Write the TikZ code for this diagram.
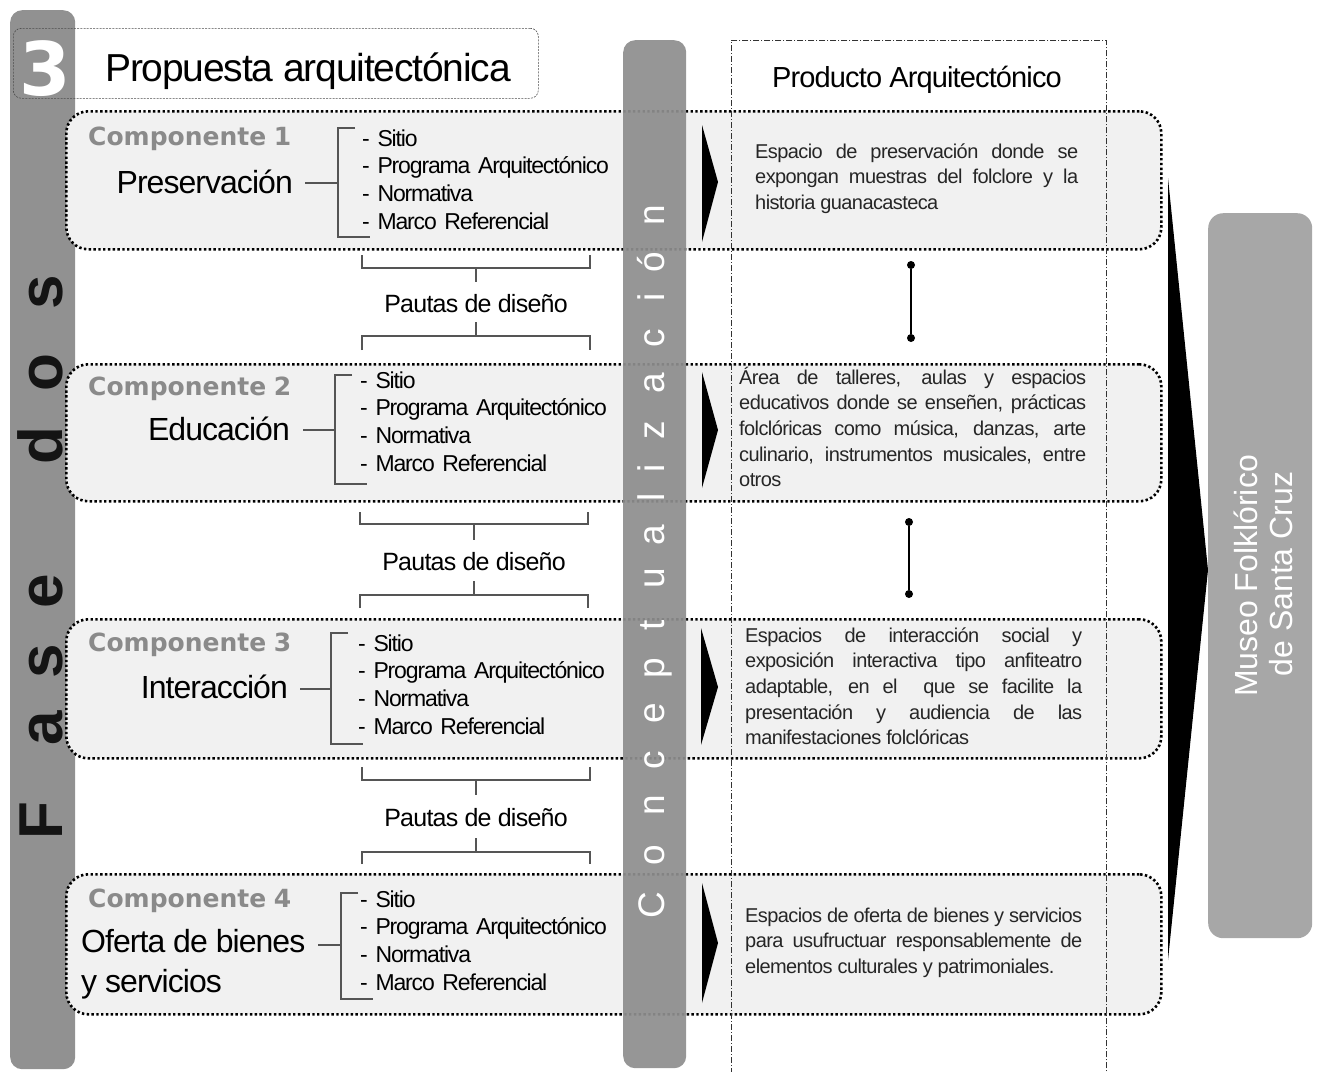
\documentclass[tikz,border=0pt]{standalone}
\usepackage{fontspec}
\setmainfont{Liberation Sans}
\newfontfamily\tightfont[LetterSpace=-3]{Liberation Sans}
\newfontfamily\listfont[LetterSpace=-5]{Liberation Sans}
\newfontfamily\heavyfont{DejaVu Sans}
\definecolor{fasegray}{HTML}{919191}
\definecolor{concgray}{HTML}{8E8E8E}
\definecolor{museogray}{HTML}{A7A7A7}
\definecolor{boxfill}{HTML}{F1F1F1}
\definecolor{compgray}{HTML}{8A8A8A}
\definecolor{brkgray}{HTML}{555555}
\tikzset{
  graybar/.style={rounded corners=12pt, inner sep=0pt, anchor=north west},
  compbox/.style={draw=black, fill=boxfill, line width=2.6pt, dash pattern=on 2.4pt off 2.4pt,
    rounded corners=22pt, minimum width=1095pt, anchor=north west, inner sep=0pt},
  brk/.style={draw=brkgray, line width=1.3pt},
  comptitle/.style={text=compgray, font=\heavyfont\bfseries\fontsize{25}{30}\selectfont, anchor=base west, inner sep=0pt},
  mainlabel/.style={font=\tightfont\fontsize{32}{40}\selectfont, inner sep=0pt},
  itemlist/.style={font=\listfont\fontsize{23}{27.8}\selectfont, align=left, text width=260pt, anchor=base west, inner sep=0pt},
  pauta/.style={font=\tightfont\fontsize{25}{30}\selectfont, anchor=base, inner sep=0pt},
  desc/.style={font=\tightfont\fontsize{20}{25.7}\selectfont, align=justify, anchor=base west, inner sep=0pt, text=black!85},
  dotnode/.style={circle, fill=black, inner sep=0pt, minimum size=8pt},
  vletter/.style={rotate=90, anchor=base, inner sep=0pt},
}
\begin{document}
\begin{tikzpicture}[x=1pt,y=-1pt]
\useasboundingbox (0,0) rectangle (1319,1071);

% Fases bar
\node[graybar, fill=fasegray, minimum width=65pt, minimum height=1059pt] (fases) at (10,10) {};
\foreach \l/\y [count=\i] in {F/821, a/728, s/661, e/591, d/446, o/373, s/292}
  \node[vletter, font=\bfseries\fontsize{62}{70}\selectfont, text=black!92] (fl\i) at (62,\y) {\l};

% Title
\node[draw=black!70, line width=0.6pt, dash pattern=on 2pt off 1.2pt, rounded corners=8pt,
  minimum width=525pt, minimum height=70pt, anchor=north west, inner sep=0pt] (titlebox) at (13,28) {};
\node[text=white, font=\heavyfont\bfseries\fontsize{74}{80}\selectfont, anchor=base, inner sep=0pt] (three) at (45,95) {3};
\node[font=\tightfont\fontsize{39}{44}\selectfont, anchor=base west, inner sep=0pt] (title) at (105,81) {Propuesta arquitectónica};

% Component boxes
\node[compbox, minimum height=138pt] (c1) at (65,110) {};
\node[compbox, minimum height=137pt] (c2) at (65,363) {};
\node[compbox, minimum height=139pt] (c3) at (65,618) {};
\node[compbox, minimum height=140pt] (c4) at (65,873) {};

% Product box
\node[draw=black!80, line width=0.8pt, dash pattern=on 6pt off 2pt on 1pt off 2pt,
  minimum width=375pt, minimum height=1060pt, anchor=north west, inner sep=0pt] (prodbox) at (731,40) {};
\node[font=\tightfont\fontsize{29}{34}\selectfont, anchor=base, inner sep=0pt] (prodtitle) at (917,87) {Producto Arquitectónico};

% Conceptualizacion bar
\node[graybar, fill=concgray, fill opacity=0.93, minimum width=63pt, minimum height=1028pt] (conc) at (623,40) {};
\foreach \l/\y [count=\i] in {C/905, o/855, n/805, c/760, e/713, p/668, t/625, u/578, a/535, l/497, i/468, z/430, a/383, c/338, i/297, ó/262, n/215}
  \node[vletter, text=white, font=\fontsize{37}{42}\selectfont] (cl\i) at (664,\y) {\l};

% Component 1
\node[comptitle] (ct1) at (88,145) {Componente\hspace{0.3em}1};
\node[mainlabel, anchor=base east] (m1) at (293,193) {Preservación};
\node[itemlist] (l1) at (362,146) {- Sitio\\- Programa Arquitectónico\\- Normativa\\- Marco Referencial};
\draw[brk] (305,183) -- (338,183);
\draw[brk] (355,128) -- (338,128) -- (338,237) -- (370,237);

% Component 2
\node[comptitle] (ct2) at (88,395) {Componente\hspace{0.3em}2};
\node[mainlabel, anchor=base east] (m2) at (290,440) {Educación};
\node[itemlist] (l2) at (360,388) {- Sitio\\- Programa Arquitectónico\\- Normativa\\- Marco Referencial};
\draw[brk] (303,430) -- (335,430);
\draw[brk] (352,375) -- (335,375) -- (335,484) -- (367,484);

% Component 3
\node[comptitle] (ct3) at (88,651) {Componente\hspace{0.3em}3};
\node[mainlabel, anchor=base east] (m3) at (288,698) {Interacción};
\node[itemlist] (l3) at (358,651) {- Sitio\\- Programa Arquitectónico\\- Normativa\\- Marco Referencial};
\draw[brk] (300,689) -- (331,689);
\draw[brk] (348,633) -- (331,633) -- (331,744) -- (363,744);

% Component 4
\node[comptitle] (ct4) at (88,907) {Componente\hspace{0.3em}4};
\node[mainlabel, anchor=base west] (m4a) at (81,952) {Oferta de bienes};
\node[mainlabel, anchor=base west] (m4b) at (81,992) {y servicios};
\node[itemlist] (l4) at (360,907) {- Sitio\\- Programa Arquitectónico\\- Normativa\\- Marco Referencial};
\draw[brk] (318,945) -- (341,945);
\draw[brk] (358,893) -- (341,893) -- (341,999) -- (373,999);

% Pautas de diseno
\draw[brk] (362,255) -- (362,268) -- (590,268) -- (590,255);
\draw[brk] (476,268) -- (476,282);
\node[pauta] (pa1) at (476,312) {Pautas de diseño};
\draw[brk] (476,322) -- (476,336);
\draw[brk] (362,350) -- (362,336) -- (590,336) -- (590,350);

\draw[brk] (360,512) -- (360,524) -- (588,524) -- (588,512);
\draw[brk] (474,524) -- (474,540);
\node[pauta] (pa2) at (474,570) {Pautas de diseño};
\draw[brk] (474,581) -- (474,595);
\draw[brk] (360,608) -- (360,595) -- (588,595) -- (588,608);

\draw[brk] (362,767) -- (362,780) -- (590,780) -- (590,767);
\draw[brk] (476,780) -- (476,795);
\node[pauta] (pa3) at (476,826) {Pautas de diseño};
\draw[brk] (476,838) -- (476,852);
\draw[brk] (362,864) -- (362,852) -- (590,852) -- (590,864);

% small arrows
\fill (702,125) -- (718,182) -- (702,242) -- cycle;
\fill (702,372) -- (718,430) -- (702,488) -- cycle;
\fill (701,628) -- (718,687) -- (701,745) -- cycle;
\fill (702,883) -- (718,943) -- (702,1003) -- cycle;

% descriptions
\node[desc, text width=323pt] (p1) at (755,158) {Espacio de preservación donde se\linebreak expongan muestras del folclore y la\linebreak historia guanacasteca};
\node[desc, text width=347pt] (p2) at (739,384) {Área de talleres, aulas y espacios\linebreak educativos donde se enseñen, prácticas\linebreak folclóricas como música, danzas, arte\linebreak culinario, instrumentos musicales, entre\linebreak otros};
\node[desc, text width=337pt] (p3) at (745,642) {Espacios de interacción social y\linebreak exposición interactiva tipo anfiteatro\linebreak adaptable, en el\ \ que se facilite la\linebreak presentación y audiencia de las\linebreak manifestaciones folclóricas};
\node[desc, text width=337pt] (p4) at (745,922) {Espacios de oferta de bienes y servicios\linebreak para usufructuar responsablemente de\linebreak elementos culturales y patrimoniales.};

% dot connectors
\node[dotnode] (d1a) at (911,265) {};
\node[dotnode] (d1b) at (911,338) {};
\draw[line width=1.2pt] (d1a) -- (d1b);
\node[dotnode] (d2a) at (909,522) {};
\node[dotnode] (d2b) at (909,594) {};
\draw[line width=1.2pt] (d2a) -- (d2b);

% big wedge arrow
\fill (1168,178) -- (1208,570) -- (1168,960) -- cycle;

% Museo box
\node[graybar, fill=museogray, rounded corners=15pt, minimum width=104pt, minimum height=725pt] (museo) at (1208,213) {};
\node[vletter, text=white, font=\fontsize{32}{38}\selectfont] (mu1) at (1257,576) {Museo Folklórico};
\node[vletter, text=white, font=\fontsize{32}{38}\selectfont] (mu2) at (1292,574) {de Santa Cruz};
\end{tikzpicture}
\end{document}
